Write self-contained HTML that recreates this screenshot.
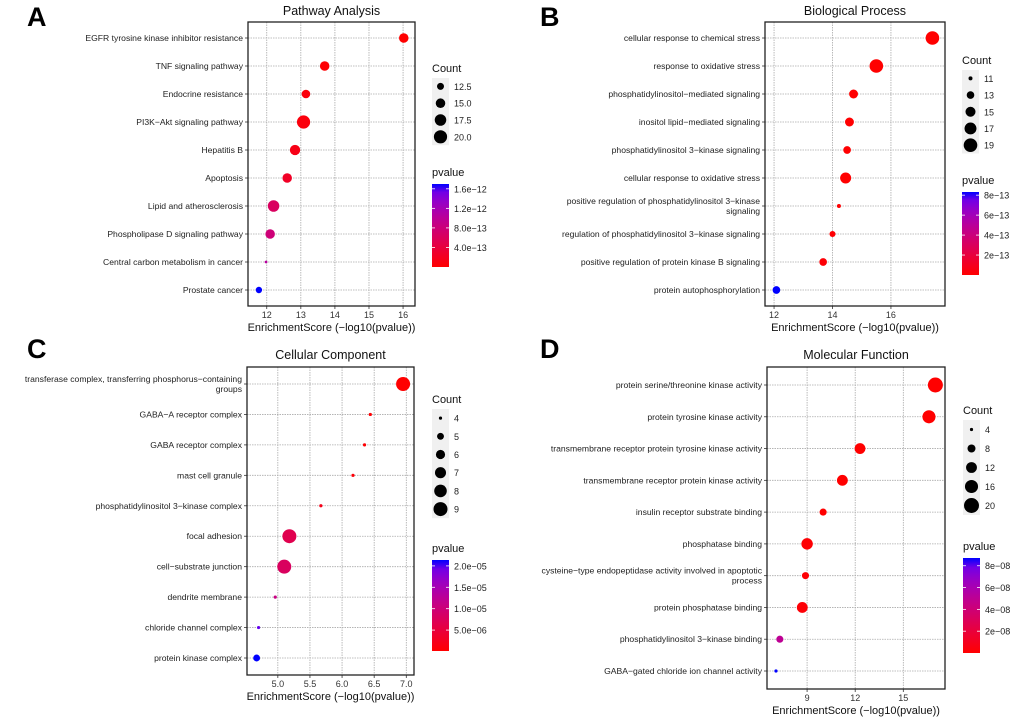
<!DOCTYPE html>
<html><head><meta charset="utf-8"><style>
html,body{margin:0;padding:0;background:#fff;}
svg{display:block;font-family:"Liberation Sans",Arial,sans-serif;}
</style></head><body>
<svg id="fig" width="1020" height="723" viewBox="0 0 1020 723" xmlns="http://www.w3.org/2000/svg"></svg>
<script>
// ---- Panel A data ----
const aLabels=["EGFR tyrosine kinase inhibitor resistance","TNF signaling pathway","Endocrine resistance","PI3K\u2212Akt signaling pathway","Hepatitis B","Apoptosis","Lipid and atherosclerosis","Phospholipase D signaling pathway","Central carbon metabolism in cancer","Prostate cancer"];
const aScores=[16.02,13.7,13.15,13.08,12.83,12.6,12.2,12.1,11.98,11.77];
const aCounts=[15,15,14,20,16,15,17.5,15,10,12];
const aXTicks=[12,13,14,15,16];
const aSizeBreaks=[12.5,15.0,17.5,20.0];
const aSizeLabels=["12.5","15.0","17.5","20.0"];
const aPBreaks=[1.6e-12,1.2e-12,8e-13,4e-13];
const aPLabels=["1.6e\u221212","1.2e\u221212","8.0e\u221213","4.0e\u221213"];
// ---- Panel B data ----
const bLabels=["cellular response to chemical stress","response to oxidative stress","phosphatidylinositol\u2212mediated signaling","inositol lipid\u2212mediated signaling","phosphatidylinositol 3\u2212kinase signaling","cellular response to oxidative stress","positive regulation of phosphatidylinositol 3\u2212kinase|signaling","regulation of phosphatidylinositol 3\u2212kinase signaling","positive regulation of protein kinase B signaling","protein autophosphorylation"];
const bScores=[17.42,15.5,14.72,14.58,14.5,14.45,14.22,14.0,13.68,12.08];
const bCounts=[19,19,14,14,13,16,11,12,13,13];
const bXTicks=[12,14,16];
const bSizeBreaks=[11,13,15,17,19];
const bSizeLabels=["11","13","15","17","19"];
const bPBreaks=[8e-13,6e-13,4e-13,2e-13];
const bPLabels=["8e\u221213","6e\u221213","4e\u221213","2e\u221213"];
// ---- Panel C data ----
const cLabels=["transferase complex, transferring phosphorus\u2212containing|groups","GABA\u2212A receptor complex","GABA receptor complex","mast cell granule","phosphatidylinositol 3\u2212kinase complex","focal adhesion","cell\u2212substrate junction","dendrite membrane","chloride channel complex","protein kinase complex"];
const cScores=[6.95,6.44,6.35,6.17,5.67,5.18,5.1,4.96,4.7,4.67];
const cCounts=[9,4,4,4,4,9,9,4,4,5];
const cXTicks=[5.0,5.5,6.0,6.5,7.0];
const cSizeBreaks=[4,5,6,7,8,9];
const cSizeLabels=["4","5","6","7","8","9"];
const cPBreaks=[2.0e-5,1.5e-5,1.0e-5,5.0e-6];
const cPLabels=["2.0e\u221205","1.5e\u221205","1.0e\u221205","5.0e\u221206"];
// ---- Panel D data ----
const dLabels=["protein serine/threonine kinase activity","protein tyrosine kinase activity","transmembrane receptor protein tyrosine kinase activity","transmembrane receptor protein kinase activity","insulin receptor substrate binding","phosphatase binding","cysteine\u2212type endopeptidase activity involved in apoptotic|process","protein phosphatase binding","phosphatidylinositol 3\u2212kinase binding","GABA\u2212gated chloride ion channel activity"];
const dScores=[17.0,16.6,12.3,11.2,10.0,9.0,8.9,8.7,7.3,7.06];
const dCounts=[20,16,12,12,7,13,7,12,7,4];
const dXTicks=[9,12,15];
const dSizeBreaks=[4,8,12,16,20];
const dSizeLabels=["4","8","12","16","20"];
const dPBreaks=[8e-8,6e-8,4e-8,2e-8];
const dPLabels=["8e\u221208","6e\u221208","4e\u221208","2e\u221208"];

const NS="http://www.w3.org/2000/svg";
const svg=document.getElementById('fig');
function mk(tag,attrs,parent){const e=document.createElementNS(NS,tag);for(const k in attrs)e.setAttribute(k,attrs[k]);(parent||svg).appendChild(e);return e;}
function txt(s,x,y,size,anchor,parent,fill){const t=mk('text',{x:x,y:y,'font-size':size,'text-anchor':anchor||'start',fill:fill||'#222'},parent);t.textContent=s;return t;}
function col(t){t=Math.max(0,Math.min(1,t));const r=Math.round(255*Math.pow(1-t,0.35));const b=Math.round(255*t);return `rgb(${r},0,${b})`;}

function panel(cfg){
  const g=mk('g',{});
  
  
  const L=txt(cfg.letter,cfg.letterX,cfg.letterY,27,'start',g,'#000');
  L.setAttribute('font-weight','bold');
  
  
  const T=txt(cfg.title,(cfg.x0+cfg.x1)/2,cfg.titleY,12.5,'middle',g,'#111');
  
  
  const xs=v=>cfg.x0+(v-cfg.dmin)/(cfg.dmax-cfg.dmin)*(cfg.x1-cfg.x0);
  const n=cfg.labels.length;
  const ys=i=>cfg.rowTop+i*(cfg.rowBot-cfg.rowTop)/(n-1);
  cfg.ticks.forEach(v=>{
    const l=mk('line',{x1:xs(v),x2:xs(v),y1:cfg.y0,y2:cfg.y1,stroke:'#aaa','stroke-width':0.8,'stroke-dasharray':'1.5,1'},g);
    
    
    mk('line',{x1:xs(v),x2:xs(v),y1:cfg.y1,y2:cfg.y1+3,stroke:'#333','stroke-width':0.8},g);
    const tl=txt(cfg.tickFmt(v),xs(v),cfg.y1+12,9,'middle',g,'#333');
    
    
  });
  cfg.labels.forEach((lab,i)=>{
    const y=ys(i);
    const l=mk('line',{x1:cfg.x0,x2:cfg.x1,y1:y,y2:y,stroke:'#aaa','stroke-width':0.8,'stroke-dasharray':'1.5,1'},g);
    
    
    mk('line',{x1:cfg.x0-3,x2:cfg.x0,y1:y,y2:y,stroke:'#333','stroke-width':0.8},g);
    const parts=lab.split('|');
    parts.forEach((p,k)=>{
      const yy=y+3+(k-(parts.length-1)/2)*10;
      const t=txt(p,cfg.x0-5,yy,8.6,'end',g,'#222');
      
      
    });
  });
  mk('rect',{x:cfg.x0,y:cfg.y0,width:cfg.x1-cfg.x0,height:cfg.y1-cfg.y0,fill:'none',stroke:'#222','stroke-width':1.3},g);
  const ax=txt('EnrichmentScore (\u2212log10(pvalue))',(cfg.x0+cfg.x1)/2,cfg.y1+25,11,'middle',g,'#111');
  
  
  const sb=cfg.sizeBreaks, c0=sb[0], c1=sb[sb.length-1];
  const rad=c=>Math.sqrt(Math.max(1,cfg.r0*cfg.r0+(c-c0)/(c1-c0)*(cfg.r1*cfg.r1-cfg.r0*cfg.r0)));
  const ps=cfg.scores.map(s=>Math.pow(10,-s));
  const pmin=Math.min(...ps), pmax=Math.max(...ps);
  const tcol=p=>(p-pmin)/(pmax-pmin);
  cfg.scores.forEach((s,i)=>{
    const c=mk('circle',{cx:xs(s),cy:ys(i),r:rad(cfg.counts[i]),fill:col(tcol(ps[i]))},g);
    
    
  });
  const lg=mk('g',{},g);
  
  
  txt('Count',cfg.legX,cfg.countTitleY,11,'start',lg,'#111');
  const kh=cfg.keyH;
  mk('rect',{x:cfg.legX,y:cfg.countTitleY+6,width:17,height:kh*sb.length,fill:'#f0f0f0'},lg);
  sb.forEach((v,i)=>{
    const cy=cfg.countTitleY+6+kh*(i+0.5);
    const c=mk('circle',{cx:cfg.legX+8.5,cy:cy,r:rad(v),fill:'#000'},lg);
    
    
    txt(cfg.sizeLabels[i],cfg.legX+22,cy+3.5,9,'start',lg,'#222');
  });
  const pg=mk('g',{},g);
  
  
  txt('pvalue',cfg.legX,cfg.pTitleY,11,'start',pg,'#111');
  const gid='grad'+cfg.letter;
  const defs=mk('defs',{},pg);
  const lgd=mk('linearGradient',{id:gid,x1:0,y1:1,x2:0,y2:0},defs);
  for(let k=0;k<=10;k++)mk('stop',{offset:k/10,'stop-color':col(k/10)},lgd);
  const by0=cfg.pTitleY+8, bh=cfg.barH, bw=17;
  mk('rect',{x:cfg.legX,y:by0,width:bw,height:bh,fill:`url(#${gid})`},pg);
  cfg.pBreaks.forEach((p,i)=>{
    const y=by0+bh-(p-pmin)/(pmax-pmin)*bh;
    mk('line',{x1:cfg.legX,x2:cfg.legX+3,y1:y,y2:y,stroke:'#fff','stroke-width':0.8},pg);
    mk('line',{x1:cfg.legX+bw-3,x2:cfg.legX+bw,y1:y,y2:y,stroke:'#fff','stroke-width':0.8},pg);
    txt(cfg.pLabels[i],cfg.legX+bw+5,y+3.5,9,'start',pg,'#222');
  });
}

panel({name:'panel-a-pathway',letter:'A',letterX:27,letterY:26,title:'Pathway Analysis',titleY:15,
  x0:248,x1:415,y0:22,y1:306,rowTop:38,rowBot:290,dmin:11.45,dmax:16.35,ticks:aXTicks,tickFmt:v=>String(v),
  labels:aLabels,scores:aScores,counts:aCounts,sizeBreaks:aSizeBreaks,sizeLabels:aSizeLabels,r0:3.5,r1:6.6,
  legX:432,countTitleY:72,keyH:16.8,pTitleY:176,barH:83,pBreaks:aPBreaks,pLabels:aPLabels});
panel({name:'panel-b-biological-process',letter:'B',letterX:540,letterY:26,title:'Biological Process',titleY:15,
  x0:765,x1:945,y0:22,y1:306,rowTop:38,rowBot:290,dmin:11.69,dmax:17.85,ticks:bXTicks,tickFmt:v=>String(v),
  labels:bLabels,scores:bScores,counts:bCounts,sizeBreaks:bSizeBreaks,sizeLabels:bSizeLabels,r0:2,r1:6.8,
  legX:962,countTitleY:64,keyH:16.7,pTitleY:184,barH:83,pBreaks:bPBreaks,pLabels:bPLabels});
panel({name:'panel-c-cellular-component',letter:'C',letterX:27,letterY:358,title:'Cellular Component',titleY:359,
  x0:247,x1:414,y0:367,y1:675,rowTop:384,rowBot:658,dmin:4.52,dmax:7.12,ticks:cXTicks,tickFmt:v=>v.toFixed(1),
  labels:cLabels,scores:cScores,counts:cCounts,sizeBreaks:cSizeBreaks,sizeLabels:cSizeLabels,r0:1.6,r1:7,
  legX:432,countTitleY:403,keyH:18.2,pTitleY:552,barH:91,pBreaks:cPBreaks,pLabels:cPLabels});
panel({name:'panel-d-molecular-function',letter:'D',letterX:540,letterY:358,title:'Molecular Function',titleY:359,
  x0:767,x1:945,y0:367,y1:689,rowTop:385,rowBot:671,dmin:6.5,dmax:17.6,ticks:dXTicks,tickFmt:v=>String(v),
  labels:dLabels,scores:dScores,counts:dCounts,sizeBreaks:dSizeBreaks,sizeLabels:dSizeLabels,r0:1.6,r1:7.5,
  legX:963,countTitleY:414,keyH:19,pTitleY:550,barH:95,pBreaks:dPBreaks,pLabels:dPLabels});
</script>
</body></html>
